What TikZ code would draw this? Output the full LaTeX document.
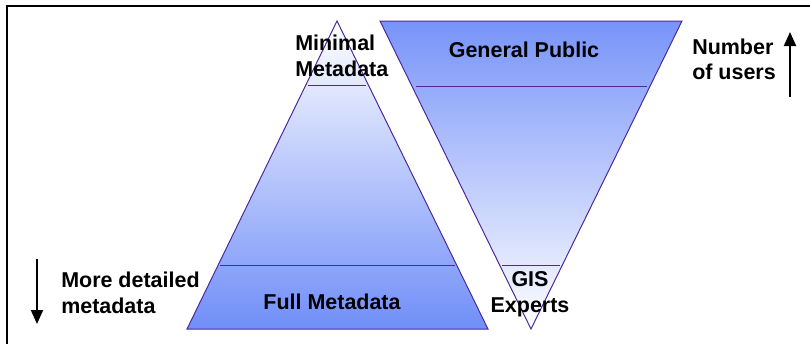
\documentclass[tikz,border=0pt]{standalone}
\usepackage{fontspec}
\setmainfont{Liberation Sans}
\usetikzlibrary{positioning,arrows.meta}
\definecolor{edgepurple}{RGB}{76,42,158}
\definecolor{fillblue}{RGB}{112,142,248}

\begin{document}
\begin{tikzpicture}[x=0.75pt,y=0.75pt,yscale=-1,xscale=1,
  outline/.style={color=edgepurple,line width=0.75},
  label/.style={font=\fontsize{16.1}{19.2}\selectfont\bfseries,inner sep=0,text=black},
  pointer/.style={line width=1.5,-{Triangle[width=9pt,length=10.5pt]}}]
\useasboundingbox (0,0) rectangle (810,344);

%Frame
\draw [line width=1.5] (7,344) -- (7,6) -- (810,6) ;

%Shape: pyramid corners
\coordinate (pyrTop) at (337,21) ;
\coordinate (pyrLeft) at (187,329) ;
\coordinate (pyrRight) at (488,329) ;
%Shape: funnel corners
\coordinate (funLeft) at (380,21) ;
\coordinate (funRight) at (682,21) ;
\coordinate (funTip) at (531,329) ;

%Shape: pyramid
\shade [top color=white,middle color=fillblue!32!white,bottom color=fillblue] (pyrTop) -- (pyrRight) -- (pyrLeft) -- cycle ;
\draw [outline] (pyrTop) -- (pyrRight) -- (pyrLeft) -- cycle ;
%Shape: funnel
\shade [top color=fillblue!95!white,middle color=fillblue!30!white,bottom color=white] (funLeft) -- (funRight) -- (funTip) -- cycle ;
\draw [outline] (funLeft) -- (funRight) -- (funTip) -- cycle ;

%Straight Lines: layer borders
\coordinate (minL) at (308,85) ;
\coordinate (minR) at (366,85) ;
\coordinate (fullL) at (220,265) ;
\coordinate (fullR) at (455,265) ;
\coordinate (pubL) at (416,86) ;
\coordinate (pubR) at (647,86) ;
\coordinate (gisL) at (502,265) ;
\coordinate (gisR) at (560,265) ;
\draw [outline] (minL) -- (minR) ;
\draw [outline] (fullL) -- (fullR) ;
\draw [outline] (pubL) -- (pubR) ;
\draw [outline] (gisL) -- (gisR) ;

%Text
\node [label,align=left,anchor=west] (minimal) at (295,56) {Minimal\\Metadata} ;
\node [label] (public) at (524,50) {General Public} ;
\node [label] (full) at (332,302) {Full Metadata} ;
\node [label,align=center] (gis) at (530,294.5) {GIS\\Experts} ;
\node [label,align=left,anchor=west] (users) at (692,59.5) {Number\\of users} ;
\node [label,align=left,anchor=west] (detail) at (61,293) {More detailed\\metadata} ;

%Arrows
\coordinate (usrTail) at (790,97) ;
\coordinate (usrTip) at (790,32) ;
\coordinate (detTail) at (37,259) ;
\coordinate (detTip) at (37,324) ;
\draw [pointer] (usrTail) -- (usrTip) ;
\draw [pointer] (detTail) -- (detTip) ;

\end{tikzpicture}
\end{document}
